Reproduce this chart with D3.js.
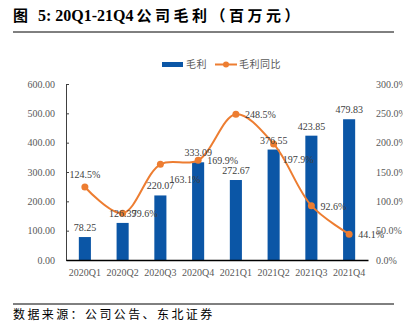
<!DOCTYPE html>
<html>
<head>
<meta charset="utf-8">
<script src="https://cdn.jsdelivr.net/npm/d3@7/dist/d3.min.js"></script>
<style>
  body { margin: 0; background: #fff; }
  svg { display: block; }
</style>
</head>
<body>
<div id="chart"></div>
<script>
// gross profit by quarter, with YoY growth
var quarters = ["2020Q1", "2020Q2", "2020Q3", "2020Q4", "2021Q1", "2021Q2", "2021Q3", "2021Q4"];
var grossProfit = [78.25, 126.39, 220.07, 333.09, 272.67, 376.55, 423.85, 479.83];
var yoyGrowth = [124.5, 79.6, 163.1, 169.9, 248.5, 197.9, 92.6, 44.1];
var leftTicks = [0, 100, 200, 300, 400, 500, 600];
var rightTicks = [0, 50, 100, 150, 200, 250, 300];
// where each growth label sits relative to its point
var pctLabelPos = ["above", "right", "below", "right", "right", "below", "right", "right"];

var width = 403, height = 329;
var margin = {top: 84, bottom: 69, left: 66, right: 35};
var plotW = width - margin.left - margin.right;
var plotH = height - margin.top - margin.bottom;

var serif = "'Times New Roman', 'Liberation Serif', 'Noto Sans CJK SC', serif";
var cjk = "'Liberation Serif', 'Noto Sans CJK SC', serif";

var svg = d3.select("#chart").append("svg")
    .attr("width", width)
    .attr("height", height);

// title
var title = svg.append("text")
    .attr("x", 13)
    .attr("y", 21)
    .attr("font-family", cjk)
    .attr("font-size", 15)
    .attr("font-weight", "bold")
    .attr("fill", "#000");
title.append("tspan").text("图");
title.append("tspan").attr("dx", 10).attr("font-family", serif).attr("font-size", 16).text("5:");
title.append("tspan").attr("dx", 4).attr("font-family", serif).attr("font-size", 16).text("20Q1-21Q4");
title.append("tspan").attr("dx", 3).attr("letter-spacing", 3.5).text("公司毛利（百万元）");

svg.append("line")
    .attr("x1", 13).attr("x2", 394)
    .attr("y1", 32).attr("y2", 32)
    .attr("stroke", "#000").attr("stroke-width", 1);

svg.append("line")
    .attr("x1", 13).attr("x2", 394)
    .attr("y1", 304).attr("y2", 304)
    .attr("stroke", "#000").attr("stroke-width", 1);

svg.append("text")
    .attr("x", 13)
    .attr("y", 319)
    .attr("font-family", cjk)
    .attr("font-size", 12)
    .attr("letter-spacing", 2.4)
    .attr("fill", "#000")
    .text("数据来源：公司公告、东北证券");

var g = svg.append("g")
    .attr("transform", "translate(" + margin.left + "," + margin.top + ")");

var x = d3.scaleBand()
    .domain(quarters)
    .range([0, plotW])
    .paddingInner(0.68)
    .paddingOuter(0.34);

var yLeft = d3.scaleLinear().domain([0, 600]).range([plotH, 0]);
var yRight = d3.scaleLinear().domain([0, 300]).range([plotH, 0]);

// left axis
var leftAxis = g.append("g")
    .call(d3.axisLeft(yLeft)
        .tickValues(leftTicks)
        .tickSizeInner(-3)
        .tickSizeOuter(0)
        .tickPadding(11)
        .tickFormat(d3.format(".2f")));
leftAxis.select(".domain").attr("stroke", "#404040");
leftAxis.selectAll(".tick line").attr("stroke", "#404040");
leftAxis.selectAll("text")
    .attr("font-family", serif)
    .attr("font-size", 10)
    .attr("fill", "#595959");

// right axis, labels only
var rightAxis = g.append("g")
    .attr("transform", "translate(" + plotW + ",0)")
    .call(d3.axisRight(yRight)
        .tickValues(rightTicks)
        .tickSize(0)
        .tickPadding(8)
        .tickFormat(d => d.toFixed(1) + "%"));
rightAxis.select(".domain").remove();
rightAxis.selectAll("text")
    .attr("font-family", serif)
    .attr("font-size", 10)
    .attr("fill", "#595959");

// bars
g.selectAll("rect.bar")
    .data(grossProfit)
    .enter()
    .append("rect")
    .attr("class", "bar")
    .attr("x", (d, i) => x(quarters[i]))
    .attr("y", d => yLeft(d))
    .attr("width", x.bandwidth())
    .attr("height", d => plotH - yLeft(d))
    .attr("fill", "#0b56a6");

// bottom axis
var bottomAxis = g.append("g")
    .attr("transform", "translate(0," + plotH + ")")
    .call(d3.axisBottom(x).tickSize(0).tickPadding(9));
bottomAxis.select(".domain").attr("stroke", "#000").attr("stroke-width", 1.3);
bottomAxis.selectAll("text")
    .attr("font-family", serif)
    .attr("font-size", 10)
    .attr("fill", "#595959");

// growth line
var cx = (d, i) => x(quarters[i]) + x.bandwidth() / 2;
var line = d3.line()
    .x(cx)
    .y(d => yRight(d))
    .curve(d3.curveCatmullRom);

g.append("path")
    .datum(yoyGrowth)
    .attr("d", line)
    .attr("fill", "none")
    .attr("stroke", "#ed7d31")
    .attr("stroke-width", 2);

g.selectAll("circle.pt")
    .data(yoyGrowth)
    .enter()
    .append("circle")
    .attr("class", "pt")
    .attr("cx", cx)
    .attr("cy", d => yRight(d))
    .attr("r", 3.5)
    .attr("fill", "#ed7d31");

// bar value labels
g.selectAll("text.barLabel")
    .data(grossProfit)
    .enter()
    .append("text")
    .attr("class", "barLabel")
    .attr("x", cx)
    .attr("y", d => yLeft(d) - 6)
    .attr("text-anchor", "middle")
    .attr("font-family", serif)
    .attr("font-size", 10)
    .attr("fill", "#404040")
    .text(d => d.toFixed(2));

// growth labels
g.selectAll("text.pctLabel")
    .data(yoyGrowth)
    .enter()
    .append("text")
    .attr("class", "pctLabel")
    .attr("x", (d, i) => pctLabelPos[i] == "above" ? cx(d, i) : cx(d, i) + 9)
    .attr("y", (d, i) => {
        var p = pctLabelPos[i];
        if (p == "above") return yRight(d) - 9;
        if (p == "below") return yRight(d) + 19;
        return yRight(d) + 4;
    })
    .attr("text-anchor", (d, i) => pctLabelPos[i] == "above" ? "middle" : "start")
    .attr("font-family", serif)
    .attr("font-size", 10)
    .attr("fill", "#404040")
    .text(d => d.toFixed(1) + "%");

// legend
var legend = svg.append("g").attr("font-family", cjk).attr("font-size", 10).attr("fill", "#595959");
legend.append("rect")
    .attr("x", 162).attr("y", 62)
    .attr("width", 21).attr("height", 5)
    .attr("fill", "#0b56a6");
legend.append("text")
    .attr("x", 186).attr("y", 68)
    .attr("letter-spacing", 0.5)
    .text("毛利");
legend.append("line")
    .attr("x1", 215).attr("x2", 237)
    .attr("y1", 64.5).attr("y2", 64.5)
    .attr("stroke", "#ed7d31").attr("stroke-width", 2);
legend.append("circle")
    .attr("cx", 226).attr("cy", 64.5).attr("r", 3)
    .attr("fill", "#ed7d31");
legend.append("text")
    .attr("x", 239).attr("y", 68)
    .attr("letter-spacing", 0.5)
    .text("毛利同比");
</script>
</body>
</html>
